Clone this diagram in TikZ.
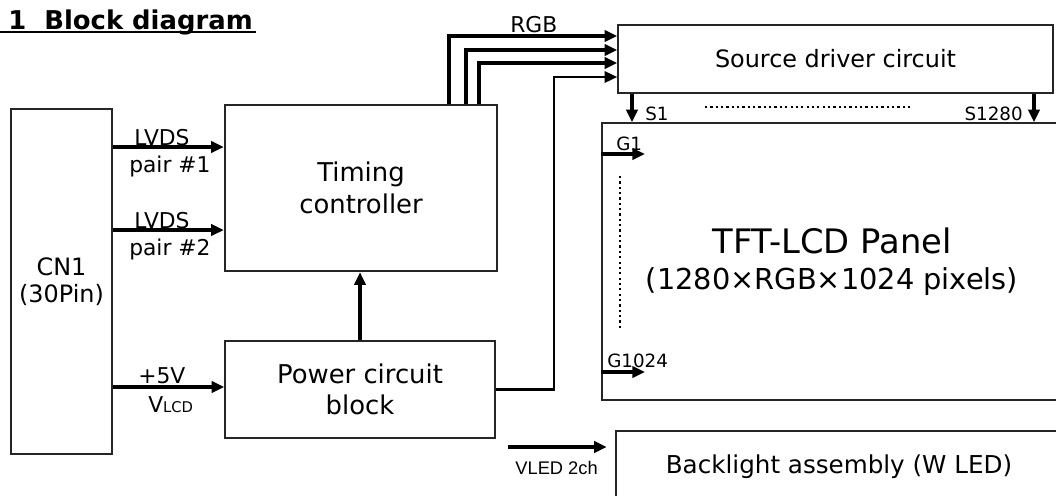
\documentclass[tikz,border=0pt]{standalone}
\usepackage{fontspec}
\setmainfont{DejaVu Sans}
\newfontfamily\narrowfont{Liberation Sans}
\usetikzlibrary{arrows.meta}

\begin{document}
\begin{tikzpicture}[
    x=0.025cm, y=-0.025cm,
    % Styling boxes
    box/.style={
      draw=black!85,
      line width=1pt,
      rectangle,
      align=center,
      inner sep=0pt
    },
    bigbox/.style={box, font=\fontsize{18.4}{22.5}\selectfont},
    lbl/.style={inner sep=0pt, anchor=base west, font=\fontsize{15.5}{15.5}\selectfont},
    pin/.style={inner sep=0pt, anchor=base west, font=\fontsize{13}{13}\selectfont},
    sig/.style={-{Triangle[length=9pt,width=8pt]}, line width=2.3pt},
    dots/.style={line width=1.6pt, dash pattern=on 1.6pt off 2.2pt}
  ]

  \useasboundingbox (0,0) rectangle (1056,495);

  % Title
  \node[anchor=base west, inner sep=0pt, font=\fontsize{18.4}{18.4}\selectfont\bfseries] (title) at (8,29) {1\ \ Block diagram};
  \draw[line width=1.6pt] (0,32) -- (256,32);

  % Main blocks
  \node[box, minimum width=2.525cm, minimum height=8.625cm, font=\fontsize{17}{19}\selectfont] (cn1) at (61.5,281.5) {CN1\\(30Pin)};
  \node[bigbox, line width=1.6pt, minimum width=6.8cm, minimum height=4.15cm] (tcon) at (361,188) {Timing\\controller};
  \node[bigbox, minimum width=6.75cm, minimum height=2.425cm] (pwr) at (360,389.5) {Power circuit\\block};
  \node[box, minimum width=10.875cm, minimum height=1.7cm, font=\fontsize{17}{17}\selectfont] (src) at (835.5,59) {Source driver circuit};
  \node[box, minimum width=11.5cm, minimum height=6.925cm, font=\fontsize{20.5}{25.5}\selectfont] (lcd) at (832,261.5) {{\fontsize{24}{25.5}\selectfont TFT-LCD Panel}\\(1280×RGB×1024 pixels)};
  \node[box, minimum width=11.15cm, minimum height=1.8cm, font=\fontsize{17.5}{17.5}\selectfont] (bl) at (839,467) {Backlight assembly (W LED)};

  % Signal labels
  \node[lbl] (lvdsa) at (134,145) {LVDS};
  \node[lbl] (paira) at (129,172) {pair \#1};
  \node[lbl] (lvdsb) at (134,228) {LVDS};
  \node[lbl] (pairb) at (129,255) {pair \#2};
  \node[lbl] (plus) at (138,383) {+5V};
  \node[lbl] (vlcd) at (148,412) {V{\fontsize{10.5}{10.5}\selectfont LCD}};
  \node[lbl] (rgb) at (510,32) {RGB};
  \node[pin] (ls1) at (645,120) {S1};
  \node[pin, anchor=base east] (lsn) at (1023,120) {S1280};
  \node[pin] (lg1) at (616,150) {G1};
  \node[pin] (lgn) at (607,367) {G1024};
  \node[inner sep=0pt, anchor=base east, font=\narrowfont\fontsize{13}{13}\selectfont] (lvled) at (598,474) {VLED 2ch};

  % Routing points
  \coordinate (lv1) at (0,147);
  \coordinate (lv2) at (0,230);
  \coordinate (vin) at (0,387);
  \coordinate (rgba) at (449,36);
  \coordinate (rgbb) at (466,50);
  \coordinate (rgbc) at (479,63);
  \coordinate (vdd) at (554,77);
  \coordinate (sa) at (632,0);
  \coordinate (sb) at (1034,0);
  \coordinate (ga) at (645,154);
  \coordinate (gb) at (645,372);
  \coordinate (vled) at (508,447);

  % Connector inputs
  \draw[sig] (cn1.east |- lv1) -- (tcon.west |- lv1);
  \draw[sig] (cn1.east |- lv2) -- (tcon.west |- lv2);
  \draw[sig] (cn1.east |- vin) -- (pwr.west |- vin);
  \draw[sig] (pwr.north) -- (tcon.south -| pwr.north);

  % RGB bus and supply to source driver
  \foreach \c in {rgba,rgbb,rgbc}
    \draw[sig] (tcon.north -| \c) |- (src.west |- \c);
  \draw[sig, line width=1.8pt] (pwr.east) -| (vdd) -- (src.west |- vdd);

  % Source and gate lines
  \draw[sig] (src.south -| sa) -- (lcd.north -| sa);
  \draw[sig] (src.south -| sb) -- (lcd.north -| sb);
  \draw[sig] (lcd.west |- ga) -- (ga);
  \draw[sig] (lcd.west |- gb) -- (gb);
  \draw[dots] (705,107) -- (913,107);
  \draw[dots] (620,176) -- (620,328);

  % Backlight supply
  \draw[sig, shorten >=6pt] (vled) -- (bl.west |- vled);

\end{tikzpicture}
\end{document}
